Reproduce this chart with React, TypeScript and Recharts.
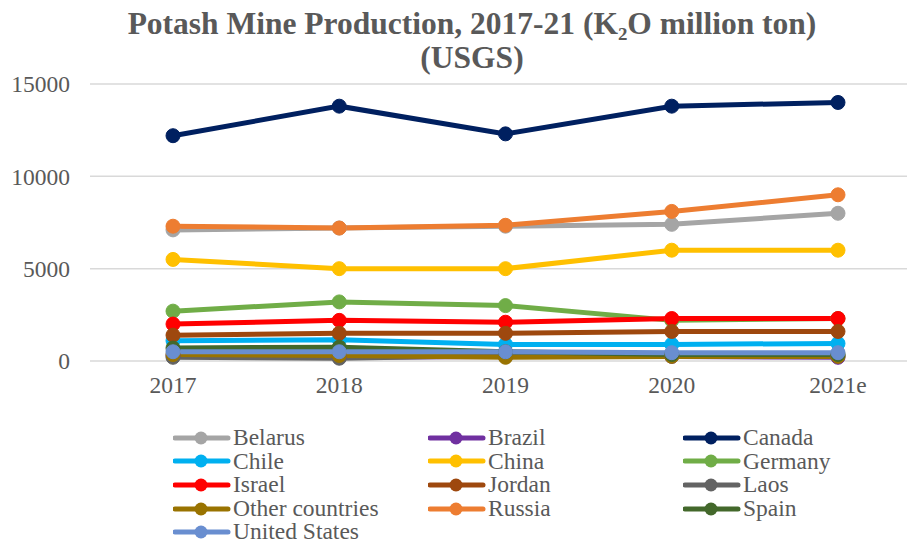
import React from 'react';
import { LineChart, Line, XAxis, YAxis, CartesianGrid } from 'recharts';

const years = ['2017', '2018', '2019', '2020', '2021e'];

const belarus = [7100, 7200, 7300, 7400, 8000];
const brazil = [300, 200, 250, 250, 200];
const canada = [12200, 13800, 12300, 13800, 14000];
const chile = [1100, 1150, 900, 900, 950];
const china = [5500, 5000, 5000, 6000, 6000];
const germany = [2700, 3200, 3000, 2200, 2300];
const israel = [2000, 2200, 2100, 2300, 2300];
const jordan = [1400, 1500, 1500, 1600, 1600];
const laos = [200, 150, 300, 300, 300];
const otherCountries = [350, 300, 200, 250, 250];
const russia = [7300, 7200, 7350, 8100, 9000];
const spain = [700, 750, 500, 350, 350];
const unitedStates = [500, 500, 500, 450, 450];

const yTicks = [0, 5000, 10000, 15000];

const series = [
  { name: 'Belarus', values: belarus, color: '#A5A5A5' },
  { name: 'Brazil', values: brazil, color: '#7030A0' },
  { name: 'Canada', values: canada, color: '#002060' },
  { name: 'Chile', values: chile, color: '#00B0F0' },
  { name: 'China', values: china, color: '#FFC000' },
  { name: 'Germany', values: germany, color: '#70AD47' },
  { name: 'Israel', values: israel, color: '#FF0000' },
  { name: 'Jordan', values: jordan, color: '#9E480E' },
  { name: 'Laos', values: laos, color: '#636363' },
  { name: 'Other countries', values: otherCountries, color: '#997300' },
  { name: 'Russia', values: russia, color: '#ED7D31' },
  { name: 'Spain', values: spain, color: '#43682B' },
  { name: 'United States', values: unitedStates, color: '#698ED0' },
];

const data = years.map((year, i) => {
  const row: any = { year };
  series.forEach(s => {
    row[s.name] = s.values[i];
  });
  return row;
});

const FONT = '"Liberation Serif", "Times New Roman", serif';
const TEXT = '#595959';

const App: React.FC = () => {
  return (
    <div style={{ position: 'fixed', left: 0, top: 0, width: 907, height: 545, overflow: 'hidden', background: '#fff' }}>
      <div
        style={{
          position: 'absolute',
          left: 72,
          top: 7,
          width: 800,
          textAlign: 'center',
          fontFamily: FONT,
          fontWeight: 'bold',
          fontSize: 31.5,
          lineHeight: '34px',
          color: TEXT,
        }}
      >
        Potash Mine Production, 2017-21 (K₂O million ton)
        <br />
        (USGS)
      </div>
      <LineChart
        width={925}
        height={545}
        data={data}
        margin={{ top: 84, right: 4, left: 10, bottom: 154 }}
      >
        <CartesianGrid vertical={false} stroke="#d9d9d9" strokeWidth={1.5} />
        <XAxis
          dataKey="year"
          axisLine={false}
          tickLine={false}
          tickSize={0}
          tickMargin={15}
          height={30}
          padding={{ left: 83, right: 83 }}
          tick={{ fontSize: 23.5, fontFamily: FONT, fill: TEXT }}
          interval={0}
        />
        <YAxis
          domain={[0, 15000]}
          ticks={yTicks}
          axisLine={false}
          tickLine={false}
          tickSize={0}
          tickMargin={20}
          width={80}
          tick={{ fontSize: 23.5, fontFamily: FONT, fill: TEXT }}
        />
        {series.map(s => (
          <Line
            key={s.name}
            dataKey={s.name}
            stroke={s.color}
            strokeWidth={5}
            dot={{ r: 7, fill: s.color, stroke: s.color, strokeWidth: 1 }}
            activeDot={false}
            isAnimationActive={false}
          />
        ))}
      </LineChart>
      <div
        style={{
          position: 'absolute',
          left: 173,
          top: 426,
          display: 'grid',
          gridTemplateColumns: '255px 255px 255px',
          gridAutoRows: '23.6px',
          fontFamily: FONT,
          fontSize: 23.5,
          color: TEXT,
        }}
      >
        {series.map(s => (
          <div key={s.name} style={{ display: 'flex', alignItems: 'center', whiteSpace: 'nowrap', lineHeight: '23.6px' }}>
            <svg width={58} height={16} style={{ flex: 'none', marginRight: 2 }}>
              <line x1={2} y1={8} x2={55} y2={8} stroke={s.color} strokeWidth={5} strokeLinecap="round" />
              <circle cx={28} cy={8} r={6.5} fill={s.color} />
            </svg>
            <span>{s.name}</span>
          </div>
        ))}
      </div>
    </div>
  );
};

export default App;
